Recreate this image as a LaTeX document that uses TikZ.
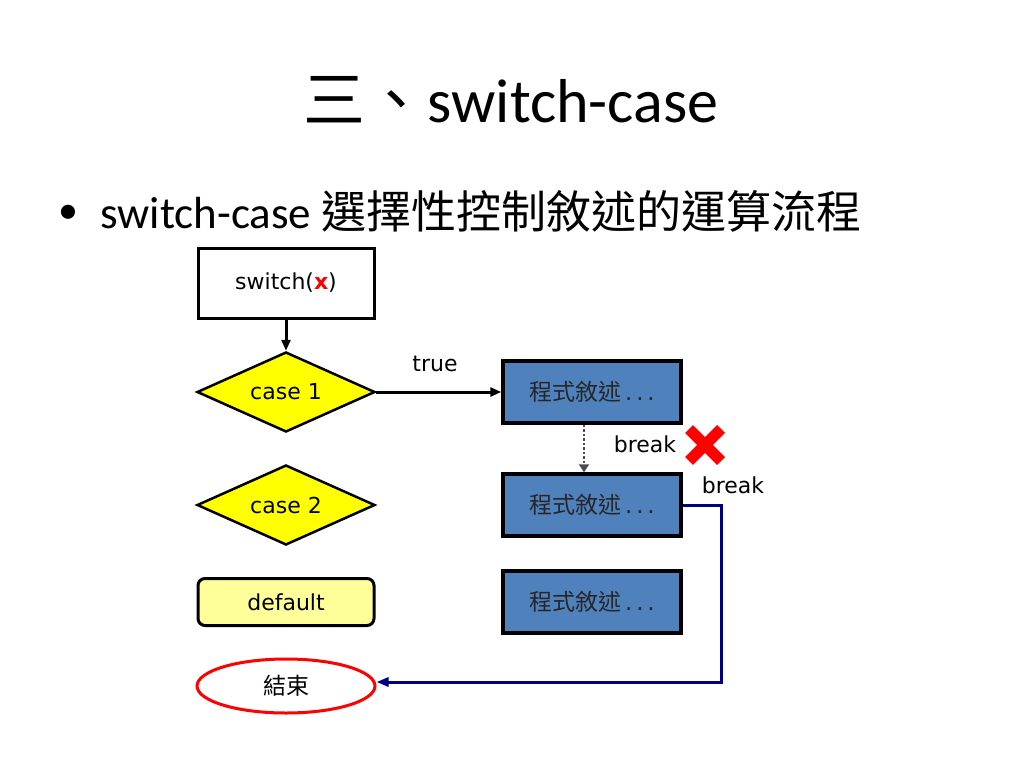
\documentclass[tikz,border=0pt]{standalone}
\usepackage{fontspec}
\setmainfont{Carlito}
\newfontfamily\cjk{Noto Sans CJK TC}
\newfontfamily\flowfont{DejaVu Sans}
\usetikzlibrary{arrows.meta,shapes.geometric}

\definecolor{stepblue}{RGB}{79,129,189}
\definecolor{caseyellow}{RGB}{255,255,0}
\definecolor{defyellow}{RGB}{255,255,153}
\definecolor{breaknavy}{RGB}{0,0,128}

\tikzset{
  flowtext/.style={font=\flowfont\fontsize{22}{26}\selectfont},
  stepbox/.style={draw,line width=3.5pt,fill=stepblue,minimum width=178pt,minimum height=62pt,
    inner sep=0pt,font=\cjk\fontsize{23}{27}\selectfont,text=black!85},
  casebox/.style={diamond,draw,line width=2.5pt,fill=caseyellow,aspect=2.2,minimum width=178pt,
    minimum height=80pt,inner sep=0pt,flowtext},
  startbox/.style={draw,line width=3pt,fill=white,minimum width=176pt,minimum height=70pt,flowtext},
  defbox/.style={draw,line width=3pt,rounded corners=7pt,fill=defyellow,minimum width=176pt,
    minimum height=47pt,flowtext},
  endbox/.style={ellipse,draw=red,line width=3pt,minimum width=178pt,minimum height=54pt,
    inner sep=0pt,font=\cjk\fontsize{23}{27}\selectfont},
  flowarrow/.style={-{Triangle[length=11pt,width=9pt]},line width=3pt},
}

\begin{document}
\begin{tikzpicture}[x=1pt,y=-1pt]
  \useasboundingbox[fill=white] (0,0) rectangle (1024,768);

  % Titel und Aufzaehlung
  \node[font=\fontsize{62}{72}\selectfont] (title) at (511,100) {{\cjk 三、}switch-case};
  \node[font=\fontsize{40}{48}\selectfont,inner sep=0pt] (bullet) at (68,214) {\textbullet};
  \node[anchor=base west,font=\fontsize{45}{54}\selectfont,inner sep=0pt] (point) at (100,228)
    {switch-case {\cjk 選擇性控制敘述的運算流程}};

  % linke Spalte
  \node[startbox] (switch) at (286,283) {switch({\color{red}\bfseries x})};
  \node[casebox] (caseA) at (286,392) {case 1};
  \node[casebox] (caseB) at (286,505) {case 2};
  \node[defbox] (default) at (286,602) {default};
  \node[endbox] (end) at (286,686) {結束};

  % rechte Spalte
  \node[stepbox] (stepA) at (592,392) {程式敘述{\flowfont\,.\,.\,.}};
  \node[stepbox] (stepB) at (592,505) {程式敘述{\flowfont\,.\,.\,.}};
  \node[stepbox] (stepC) at (592,602) {程式敘述{\flowfont\,.\,.\,.}};

  % Pfeile
  \draw[flowarrow] (switch) -- (caseA);
  \draw[flowarrow] (caseA.east) -- (stepA.west);
  \node[flowtext] (true) at (435,364) {true};

  \draw[-{Triangle[length=8pt,width=10pt]},dotted,line width=2.5pt,black!70]
    ([xshift=-8pt]stepA.south) -- ([xshift=-8pt]stepB.north);
  \node[flowtext] (breakA) at (645,444) {break};
  \draw[red,line width=11pt] (689,429) -- (721,461) (689,461) -- (721,429);

  \node[flowtext] (breakB) at (733,485) {break};
  \coordinate (turnA) at (721,505);
  \coordinate (turnB) at (721,682);
  \draw[breaknavy,line width=3pt,-{Triangle[length=12pt,width=9pt]}]
    (stepB.east) -- (turnA) -- (turnB) -- (end.east |- turnB);
\end{tikzpicture}
\end{document}
